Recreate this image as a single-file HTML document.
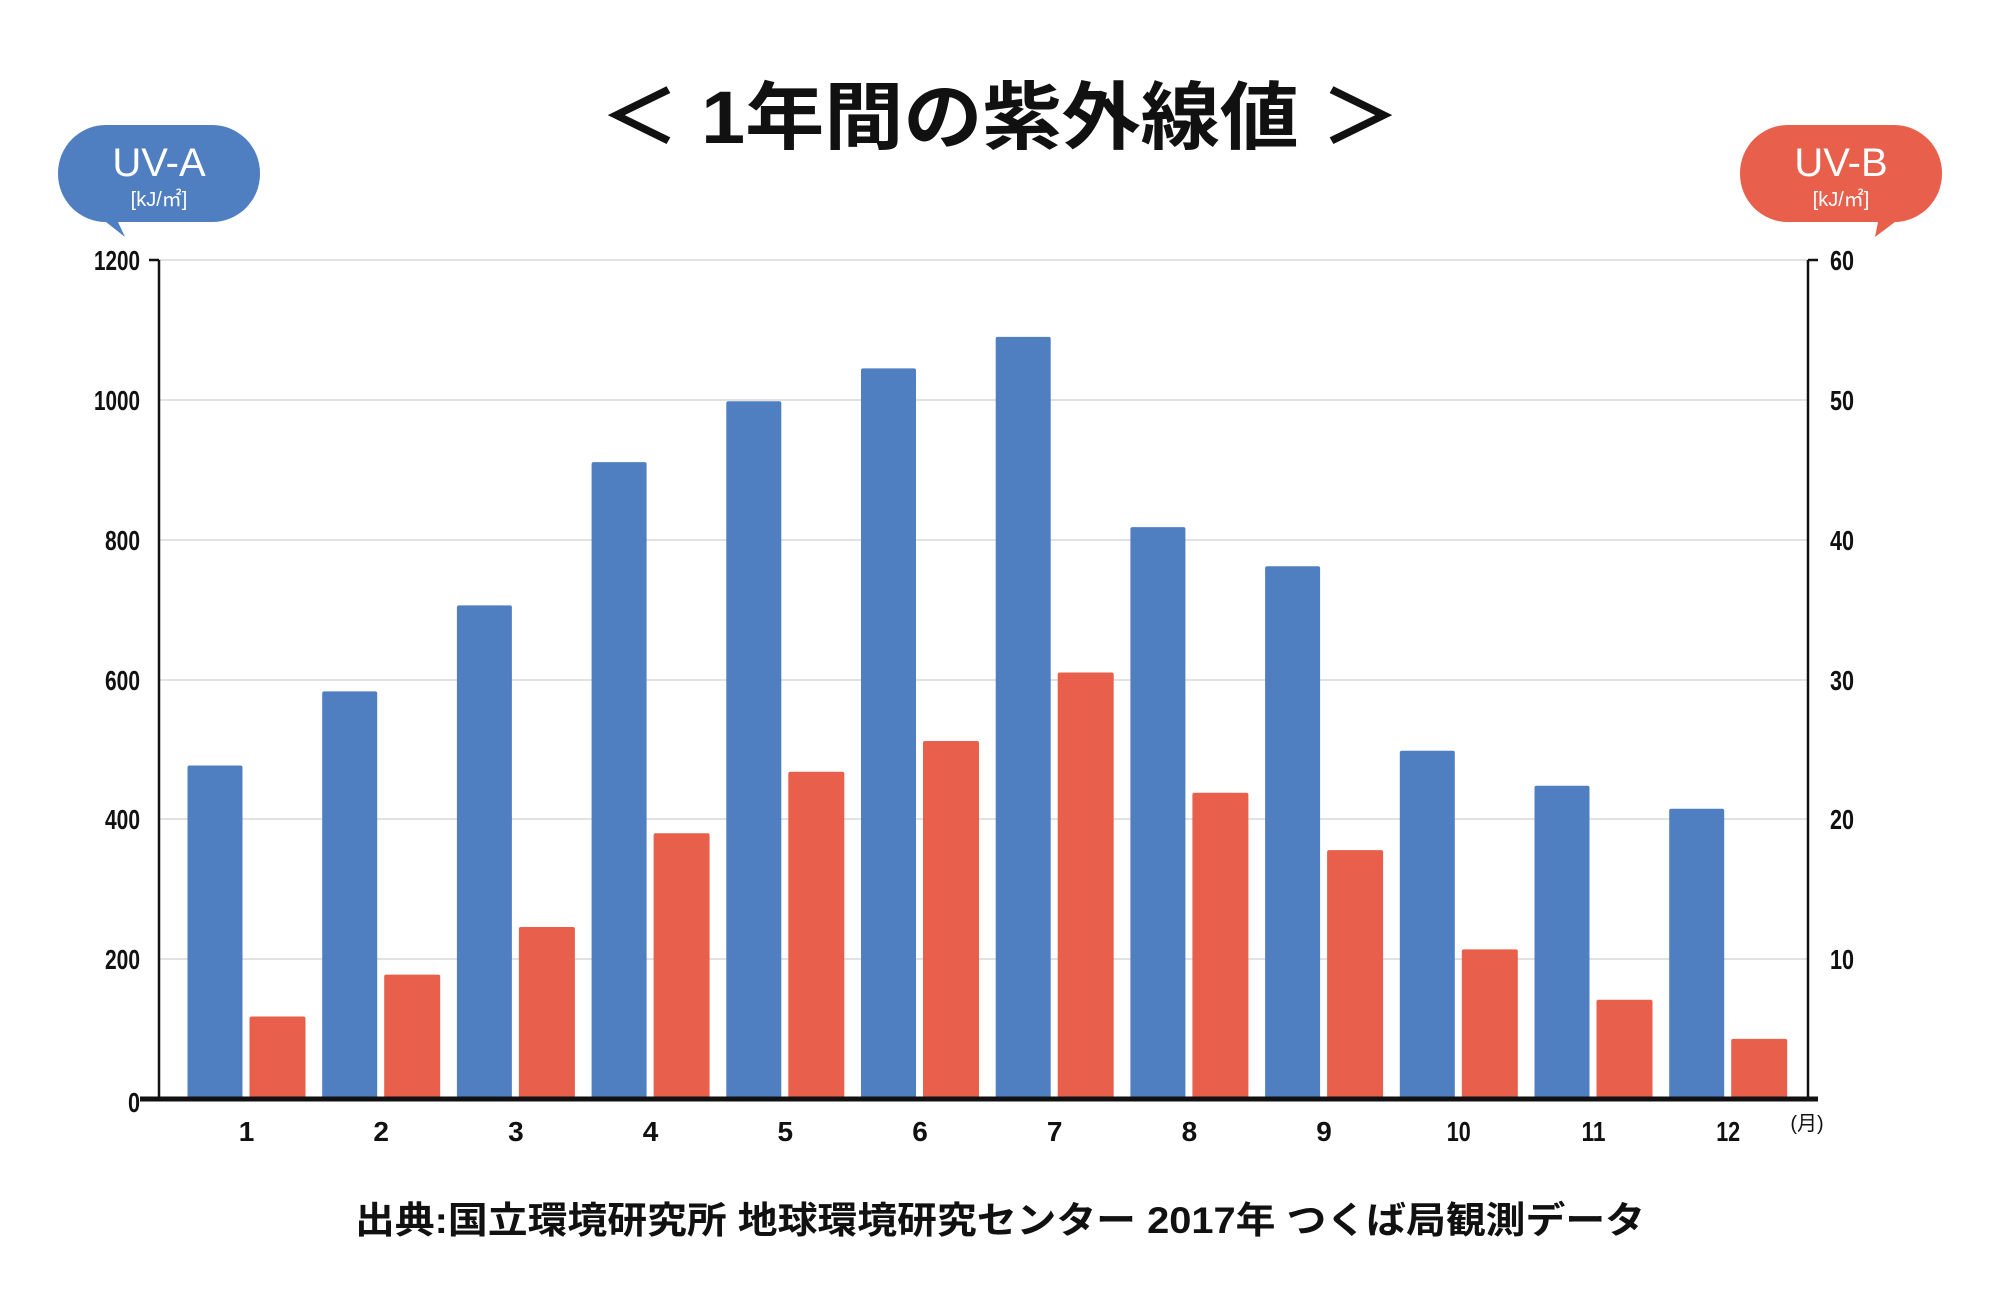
<!DOCTYPE html>
<html><head><meta charset="utf-8"><style>
html,body{margin:0;padding:0;background:#fff;}
svg{display:block;}
.t{font-family:"Liberation Sans Narrow","Liberation Sans",sans-serif;font-weight:bold;font-size:28px;fill:#111;}
.j{font-family:"Liberation Sans","Noto Sans CJK JP",sans-serif;}
</style></head><body>
<svg width="2000" height="1300" xmlns="http://www.w3.org/2000/svg">
<text x="1000" y="143" text-anchor="middle" class="j" font-size="74" font-weight="bold" fill="#111" textLength="800" lengthAdjust="spacingAndGlyphs">＜ 1年間の紫外線値 ＞</text>
<path d="M106,222 L125,237 L118,222 Z" fill="#4f7fc1"/>
<rect x="58" y="125" width="202" height="97" rx="48" fill="#4f7fc1"/>
<text x="159" y="176" text-anchor="middle" class="j" font-size="40" fill="#fff">UV-A</text>
<text x="159" y="206" text-anchor="middle" class="j" font-size="20" fill="#fff">[kJ/㎡]</text>
<path d="M1878,222 L1875,237 L1895,222 Z" fill="#e8604c"/>
<rect x="1740" y="125" width="202" height="97" rx="48" fill="#e8604c"/>
<text x="1841" y="176" text-anchor="middle" class="j" font-size="40" fill="#fff">UV-B</text>
<text x="1841" y="206" text-anchor="middle" class="j" font-size="20" fill="#fff">[kJ/㎡]</text>
<g stroke="#e2e2e2" stroke-width="2">
<line x1="159" y1="260" x2="1808" y2="260"/>
<line x1="159" y1="400" x2="1808" y2="400"/>
<line x1="159" y1="540" x2="1808" y2="540"/>
<line x1="159" y1="680" x2="1808" y2="680"/>
<line x1="159" y1="819" x2="1808" y2="819"/>
<line x1="159" y1="959" x2="1808" y2="959"/>
</g>
<g fill="#4f7fc1">
<rect x="187.5" y="765.5" width="55" height="333.5" rx="2"/>
<rect x="322.2" y="691.4" width="55" height="407.6" rx="2"/>
<rect x="456.9" y="605.4" width="55" height="493.6" rx="2"/>
<rect x="591.6" y="462.1" width="55" height="636.9" rx="2"/>
<rect x="726.3" y="401.2" width="55" height="697.8" rx="2"/>
<rect x="861.0" y="368.4" width="55" height="730.6" rx="2"/>
<rect x="995.7" y="336.9" width="55" height="762.1" rx="2"/>
<rect x="1130.4" y="527.1" width="55" height="571.9" rx="2"/>
<rect x="1265.1" y="566.2" width="55" height="532.8" rx="2"/>
<rect x="1399.8" y="750.8" width="55" height="348.2" rx="2"/>
<rect x="1534.5" y="785.8" width="55" height="313.2" rx="2"/>
<rect x="1669.2" y="808.8" width="55" height="290.2" rx="2"/>
</g>
<g fill="#e8604c">
<rect x="249.5" y="1016.5" width="56" height="82.5" rx="2"/>
<rect x="384.2" y="974.6" width="56" height="124.4" rx="2"/>
<rect x="518.9" y="927.0" width="56" height="172.0" rx="2"/>
<rect x="653.6" y="833.3" width="56" height="265.7" rx="2"/>
<rect x="788.3" y="771.8" width="56" height="327.2" rx="2"/>
<rect x="923.0" y="741.0" width="56" height="358.0" rx="2"/>
<rect x="1057.7" y="672.5" width="56" height="426.5" rx="2"/>
<rect x="1192.4" y="792.8" width="56" height="306.2" rx="2"/>
<rect x="1327.1" y="850.1" width="56" height="248.9" rx="2"/>
<rect x="1461.8" y="949.4" width="56" height="149.6" rx="2"/>
<rect x="1596.5" y="999.7" width="56" height="99.3" rx="2"/>
<rect x="1731.2" y="1038.9" width="56" height="60.1" rx="2"/>
</g>
<g stroke="#111" stroke-width="2.5" fill="none">
<line x1="159" y1="260" x2="159" y2="1099"/>
<line x1="149" y1="260" x2="159" y2="260"/>
<line x1="1808" y1="260" x2="1808" y2="1099"/>
<line x1="1808" y1="260" x2="1818" y2="260"/>
</g>
<line x1="140" y1="1099" x2="1818" y2="1099" stroke="#111" stroke-width="5"/>
<g class="t" text-anchor="end">
<text x="140" y="270" textLength="46" lengthAdjust="spacingAndGlyphs">1200</text>
<text x="140" y="410" textLength="46" lengthAdjust="spacingAndGlyphs">1000</text>
<text x="140" y="550" textLength="35" lengthAdjust="spacingAndGlyphs">800</text>
<text x="140" y="690" textLength="35" lengthAdjust="spacingAndGlyphs">600</text>
<text x="140" y="829" textLength="35" lengthAdjust="spacingAndGlyphs">400</text>
<text x="140" y="969" textLength="35" lengthAdjust="spacingAndGlyphs">200</text>
<text x="140" y="1112" textLength="12" lengthAdjust="spacingAndGlyphs">0</text>
</g>
<g class="t">
<text x="1830" y="270" textLength="24" lengthAdjust="spacingAndGlyphs">60</text>
<text x="1830" y="410" textLength="24" lengthAdjust="spacingAndGlyphs">50</text>
<text x="1830" y="550" textLength="24" lengthAdjust="spacingAndGlyphs">40</text>
<text x="1830" y="690" textLength="24" lengthAdjust="spacingAndGlyphs">30</text>
<text x="1830" y="829" textLength="24" lengthAdjust="spacingAndGlyphs">20</text>
<text x="1830" y="969" textLength="24" lengthAdjust="spacingAndGlyphs">10</text>
</g>
<g class="t" text-anchor="middle">
<text x="246.5" y="1141">1</text>
<text x="381.2" y="1141">2</text>
<text x="515.9" y="1141">3</text>
<text x="650.6" y="1141">4</text>
<text x="785.3" y="1141">5</text>
<text x="920.0" y="1141">6</text>
<text x="1054.7" y="1141">7</text>
<text x="1189.4" y="1141">8</text>
<text x="1324.1" y="1141">9</text>
<text x="1458.8" y="1141" textLength="24" lengthAdjust="spacingAndGlyphs">10</text>
<text x="1593.5" y="1141" textLength="24" lengthAdjust="spacingAndGlyphs">11</text>
<text x="1728.2" y="1141" textLength="24" lengthAdjust="spacingAndGlyphs">12</text>
</g>
<text x="1807" y="1130" text-anchor="middle" class="j" font-size="20" fill="#111">(月)</text>
<text x="1000" y="1233" text-anchor="middle" class="j" font-size="37" font-weight="bold" fill="#111" textLength="1290" lengthAdjust="spacingAndGlyphs">出典:国立環境研究所 地球環境研究センター 2017年 つくば局観測データ</text>
</svg>
</body></html>
